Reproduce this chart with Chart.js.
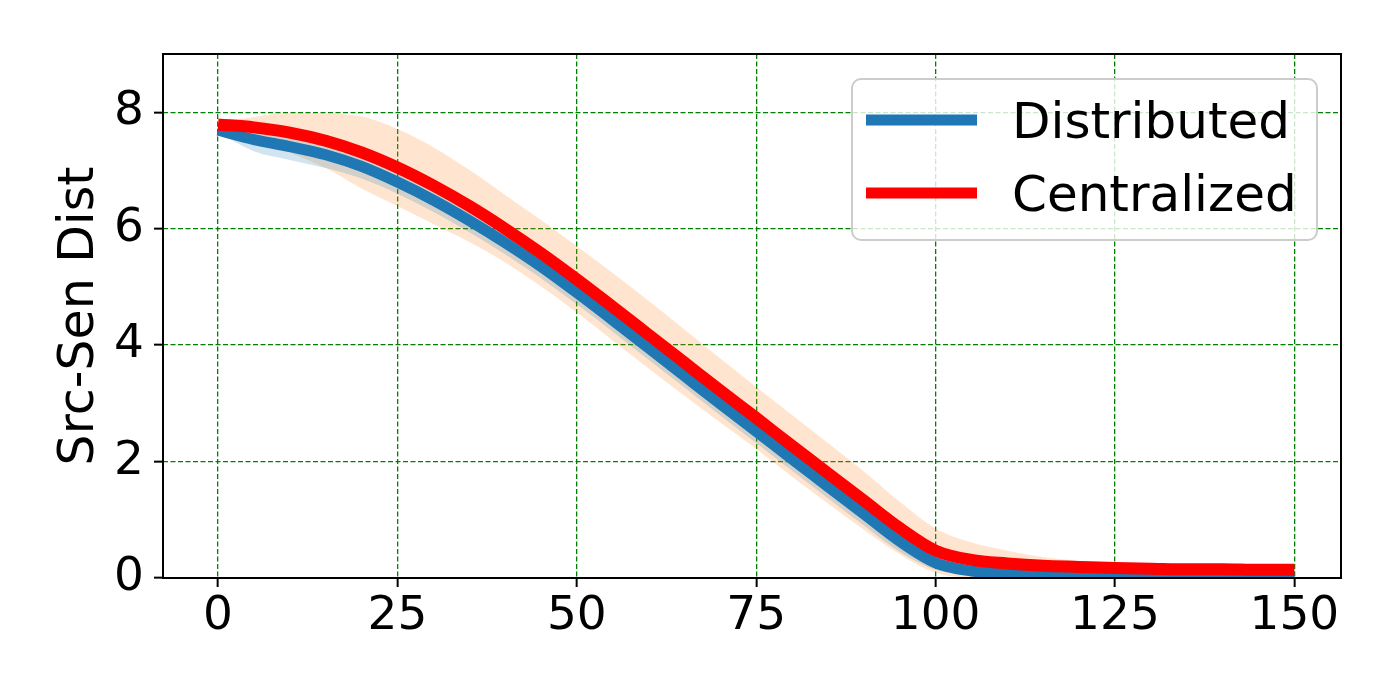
<!DOCTYPE html>
<html>
<head>
<meta charset="utf-8">
<script src="https://cdn.jsdelivr.net/npm/chart.js@4.4.1/dist/chart.umd.min.js"></script>
<style>
  html, body { margin: 0; padding: 0; background: #fff; }
  #wrap { width: 1400px; height: 700px; }
</style>
</head>
<body>
<div id="wrap"><canvas id="srcSenChart" width="1400" height="700"></canvas></div>
<script>
// x positions (time steps)
const steps = [0, 5, 10, 15, 20, 25, 30, 35, 40, 45, 50, 55, 60, 65, 70, 75, 80, 85, 90, 95, 100,
               105, 110, 115, 120, 125, 130, 135, 140, 145, 150];

// Distributed: mean and std
const distMean = [7.69, 7.53, 7.41, 7.27, 7.07, 6.80, 6.49, 6.14, 5.76, 5.35, 4.90, 4.43, 3.95, 3.47, 2.99, 2.52,
                  2.04, 1.57, 1.10, 0.63, 0.26, 0.12, 0.07, 0.05, 0.04, 0.03, 0.03, 0.03, 0.02, 0.02, 0.02];
const distStd  = [0.04, 0.20, 0.23, 0.23, 0.21, 0.20, 0.20, 0.20, 0.20, 0.20, 0.20, 0.20, 0.20, 0.20, 0.20, 0.20,
                  0.20, 0.20, 0.20, 0.18, 0.12, 0.06, 0.04, 0.02, 0.02, 0.02, 0.02, 0.02, 0.02, 0.02, 0.02];

// Centralized: mean and std
const centMean = [7.79, 7.74, 7.65, 7.51, 7.31, 7.05, 6.74, 6.39, 6.00, 5.58, 5.13, 4.66, 4.18, 3.70, 3.22, 2.75,
                  2.27, 1.80, 1.33, 0.86, 0.47, 0.31, 0.25, 0.21, 0.19, 0.17, 0.16, 0.15, 0.15, 0.14, 0.14];
const centStd  = [0.04, 0.18, 0.34, 0.47, 0.62, 0.66, 0.66, 0.62, 0.58, 0.57, 0.57, 0.58, 0.58, 0.57, 0.55, 0.53,
                  0.53, 0.52, 0.50, 0.45, 0.38, 0.30, 0.22, 0.15, 0.10, 0.06, 0.04, 0.03, 0.02, 0.02, 0.02];

const xTicks = [0, 25, 50, 75, 100, 125, 150];
const yTicks = [0, 2, 4, 6, 8];
const seriesNames = ['Distributed', 'Centralized'];
const yTitle = 'Src-Sen Dist';

const BLUE = '#1f77b4';
const RED = '#ff0000';

const pts = (arr) => steps.map((x, i) => ({ x: x, y: arr[i] }));
const plus = (m, s) => m.map((v, i) => v + s[i]);
const minus = (m, s) => m.map((v, i) => v - s[i]);

const bandBase = {
    pointRadius: 0,
    borderWidth: 0,
    borderColor: 'transparent',
    cubicInterpolationMode: 'monotone',
    clip: 0
};

// frame, legend box and y title drawn like matplotlib
const frameAndLegend = {
    id: 'frameAndLegend',
    afterDraw(chart) {
        const ctx = chart.ctx;
        const a = chart.chartArea;
        ctx.save();

        // axes frame
        ctx.strokeStyle = '#000';
        ctx.lineWidth = 2;
        ctx.strokeRect(a.left, a.top, a.right - a.left, a.bottom - a.top);

        // legend box
        const bx = 852, by = 79, bw = 465, bh = 161;
        ctx.beginPath();
        ctx.roundRect(bx, by, bw, bh, 9);
        ctx.fillStyle = 'rgba(255,255,255,0.8)';
        ctx.fill();
        ctx.strokeStyle = '#cccccc';
        ctx.lineWidth = 2;
        ctx.stroke();

        const rows = [
            { label: seriesNames[0], color: BLUE, y: 120, base: 138 },
            { label: seriesNames[1], color: RED, y: 193, base: 211 }
        ];
        ctx.font = '50px "DejaVu Sans"';
        ctx.textAlign = 'left';
        ctx.textBaseline = 'alphabetic';
        rows.forEach(r => {
            ctx.beginPath();
            ctx.lineCap = 'butt';
            ctx.strokeStyle = r.color;
            ctx.lineWidth = 11;
            ctx.moveTo(866, r.y);
            ctx.lineTo(977, r.y);
            ctx.stroke();
            ctx.fillStyle = '#000';
            ctx.fillText(r.label, 1012, r.base);
        });

        // y axis title
        ctx.translate(80, (a.top + a.bottom) / 2);
        ctx.rotate(-Math.PI / 2);
        ctx.textAlign = 'center';
        ctx.textBaseline = 'middle';
        ctx.font = '49px "DejaVu Sans"';
        ctx.fillStyle = '#000';
        ctx.fillText(yTitle, 0, 0);
        ctx.restore();
    }
};

Chart.defaults.font.family = '"DejaVu Sans"';
Chart.defaults.color = '#000';

const ctx = document.getElementById('srcSenChart').getContext('2d');

const chart = new Chart(ctx, {
    type: 'line',
    data: {
        datasets: [
            {
                label: seriesNames[0],
                data: pts(distMean),
                borderColor: BLUE,
                borderWidth: 11,
                borderCapStyle: 'butt',
                pointRadius: 0,
                fill: false,
                cubicInterpolationMode: 'monotone',
                clip: 0,
                order: 1
            },
            {
                label: seriesNames[1],
                data: pts(centMean),
                borderColor: RED,
                borderWidth: 12,
                borderCapStyle: 'butt',
                pointRadius: 0,
                fill: false,
                cubicInterpolationMode: 'monotone',
                clip: 0,
                order: 0
            },
            { ...bandBase, label: 'dist upper', data: pts(plus(distMean, distStd)), fill: false, order: 2 },
            { ...bandBase, label: 'dist lower', data: pts(minus(distMean, distStd)), fill: 2,
              backgroundColor: 'rgba(31,119,180,0.2)', order: 2 },
            { ...bandBase, label: 'cent upper', data: pts(plus(centMean, centStd)), fill: false, order: 3 },
            { ...bandBase, label: 'cent lower', data: pts(minus(centMean, centStd)), fill: 4,
              backgroundColor: 'rgba(255,127,14,0.2)', order: 3 }
        ]
    },
    options: {
        responsive: false,
        animation: false,
        devicePixelRatio: 1,
        layout: { padding: { top: 54, right: 59, left: 0, bottom: 0 } },
        plugins: {
            legend: { display: false },
            tooltip: { enabled: false }
        },
        scales: {
            x: {
                type: 'linear',
                min: -7.67,
                max: 156.5,
                afterBuildTicks: (s) => { s.ticks = xTicks.map(v => ({ value: v })); },
                afterFit: (s) => { s.height = 122; },
                ticks: {
                    autoSkip: false,
                    maxRotation: 0,
                    padding: 2,
                    font: { size: 47 },
                    color: '#000'
                },
                grid: {
                    color: '#008000',
                    lineWidth: 1.3,
                    drawTicks: true,
                    tickLength: 9,
                    tickWidth: 2,
                    tickColor: '#000',
                    borderDash: [5, 2.5]
                },
                border: { display: false, dash: [5, 2.5] }
            },
            y: {
                min: 0,
                max: 9,
                afterBuildTicks: (s) => { s.ticks = yTicks.map(v => ({ value: v })); },
                afterFit: (s) => { s.width = 163; },
                ticks: {
                    padding: 10,
                    font: { size: 47 },
                    color: '#000'
                },
                grid: {
                    color: (c) => (c.tick && c.tick.value === 0 ? '#1f5fa0' : '#008000'),
                    lineWidth: 1.3,
                    drawTicks: true,
                    tickLength: 9,
                    tickWidth: 2,
                    tickColor: '#000',
                    borderDash: [5, 2.5]
                },
                border: { display: false, dash: [5, 2.5] }
            }
        }
    },
    plugins: [frameAndLegend]
});
</script>
</body>
</html>
